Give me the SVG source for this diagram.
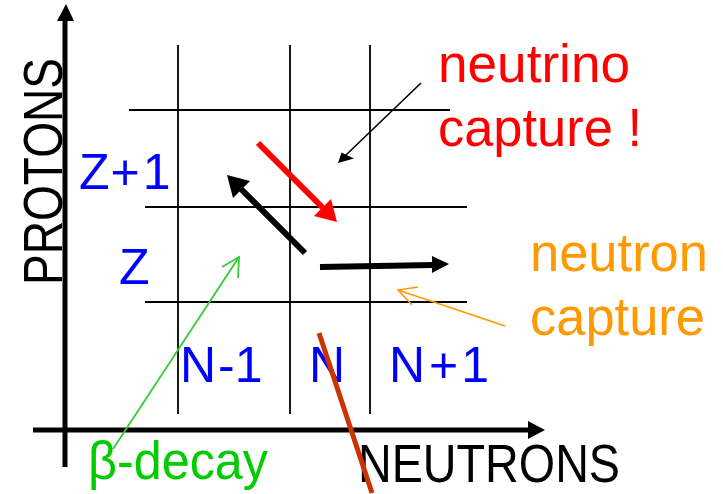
<svg xmlns="http://www.w3.org/2000/svg" width="723" height="494" viewBox="0 0 723 494">
<style>
text{font-family:"Liberation Sans",Arial,sans-serif}
.grid{stroke:#000;stroke-width:1.8;fill:none}
.axis{stroke:#000;stroke-width:5;fill:none}
.lbl{fill:#0000ff;font-size:50px}
.big{font-size:53px}
</style>
<rect width="723" height="494" fill="#fff"/>
<g id="grid">
<line class="grid" x1="178" y1="45" x2="178" y2="414"/>
<line class="grid" x1="290" y1="45" x2="290" y2="414"/>
<line class="grid" x1="370" y1="45" x2="370" y2="414"/>
<line class="grid" x1="129" y1="110" x2="450" y2="110"/>
<line class="grid" x1="145" y1="207" x2="467" y2="207"/>
<line class="grid" x1="145" y1="302" x2="467" y2="302"/>
</g>
<g id="axes">
<line class="axis" x1="65" y1="467" x2="65" y2="18"/>
<polygon points="66,4 74,21 57,21" fill="#000"/>
<line class="axis" x1="33" y1="430" x2="530" y2="430"/>
<polygon points="545,430 528,421 528,439" fill="#000"/>
</g>
<g id="labels">
<text class="lbl" x="79" y="189">Z<tspan dx="1">+</tspan><tspan dx="3">1</tspan></text>
<text class="lbl" x="119" y="284">Z</text>
<text class="lbl" x="180" y="382">N<tspan dx="2">-</tspan>1</text>
<text class="lbl" x="309" y="382">N</text>
<text class="lbl" x="389" y="382">N<tspan dx="4">+</tspan><tspan dx="3">1</tspan></text>
<text class="big" x="438" y="82" fill="#ff0000" textLength="192" lengthAdjust="spacingAndGlyphs">neutrino</text>
<text class="big" x="438" y="146" fill="#ff0000" textLength="204" lengthAdjust="spacingAndGlyphs">capture !</text>
<text class="big" x="530" y="271" fill="#ff9900" textLength="178" lengthAdjust="spacingAndGlyphs">neutron</text>
<text class="big" x="530" y="335" fill="#ff9900" textLength="175" lengthAdjust="spacingAndGlyphs">capture</text>
<text class="big" x="88" y="479" fill="#00cc00" textLength="180" lengthAdjust="spacingAndGlyphs">β-decay</text>
<text x="358" y="482" font-size="54" fill="#000" textLength="262" lengthAdjust="spacingAndGlyphs">NEUTRONS</text>
<text transform="translate(62,285) rotate(-90)" font-size="55" fill="#000" textLength="227" lengthAdjust="spacingAndGlyphs">PROTONS</text>
</g>
<g id="connectors">
<line x1="305" y1="253" x2="240" y2="188" stroke="#000" stroke-width="6"/>
<polygon points="227,175 250,181 233,198" fill="#000"/>
<line x1="258" y1="143" x2="326" y2="211" stroke="#ff0000" stroke-width="6"/>
<polygon points="337,222 314,216 331,199" fill="#ff0000"/>
<line x1="320" y1="267" x2="434" y2="265" stroke="#000" stroke-width="6"/>
<polygon points="449,264 432,256 432,273" fill="#000"/>
<line x1="421" y1="83" x2="346" y2="155" stroke="#000" stroke-width="1.6"/>
<polygon points="338,163 341.5,152.5 354,158.5" fill="#000"/>
<g fill="none" stroke="#ff9900" stroke-width="1.6">
<line x1="505" y1="326" x2="398" y2="290"/>
<polyline points="418,287 398,290 412,305"/>
</g>
<g fill="none" stroke="#33cc33" stroke-width="1.8">
<line x1="113" y1="449" x2="239" y2="257"/>
<polyline points="222,267 239,257 238,278"/>
</g>
<line x1="319" y1="333" x2="372" y2="493" stroke="#cc3300" stroke-width="5"/>
</g>
</svg>
